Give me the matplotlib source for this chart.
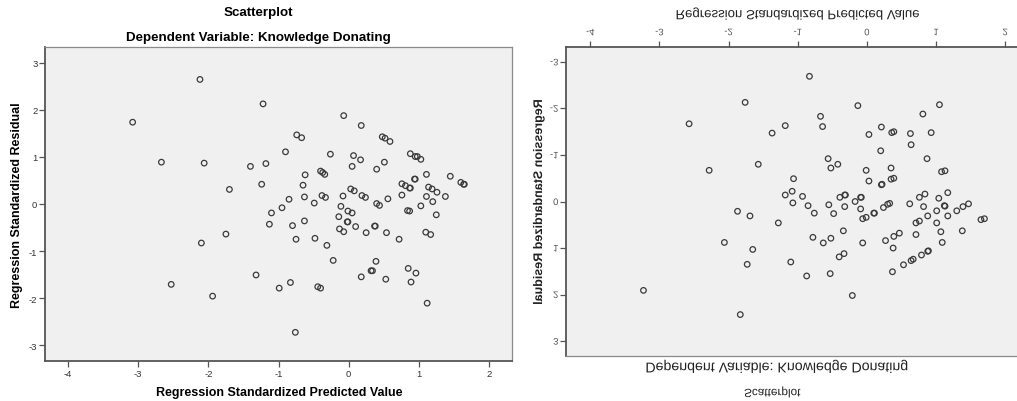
import matplotlib
matplotlib.use("Agg")
import matplotlib.pyplot as plt
from matplotlib.patheffects import AbstractPathEffect
from matplotlib.transforms import Affine2D

plt.rcParams['font.family'] = ['Liberation Sans', 'DejaVu Sans']
plt.rcParams['axes.unicode_minus'] = False

# left panel: standardized predicted value vs standardized residual
left_x = [-3.08, -2.12, -2.67, -2.06, -1.22, -1.70, -1.40, -1.18, -1.24, -0.90,
          -0.74, -0.67, -0.62, -0.65, -0.40, -0.37, -0.34, -0.26, -0.07, 0.18,
          0.07, 0.17, 0.05, 0.48, 0.52, 0.59, 0.51, 0.40, 0.88, 0.95,
          0.98, 1.03, 0.76, 0.81, 0.87, 0.88, 0.94, 0.95, 1.11, 1.14,
          1.19, 1.26, 1.45, 1.60, 1.64, 1.65, 0.03, 0.08, -0.38, -0.33,
          -0.08, 0.19, 0.24, -0.63, -0.85, 0.56, 0.76, 1.11, 1.38, -1.10,
          -0.95, -1.13, -0.80, -0.63, -0.49, -0.11, -0.01, 0.05, -0.14, -0.02,
          -0.01, 0.10, -0.13, -0.07, 0.25, 0.40, 0.44, 0.38, 0.37, 0.54,
          0.72, 0.84, 0.87, 1.03, 1.20, 1.25, 1.10, 1.17, -1.75, -2.10,
          -2.53, -1.94, -1.32, -0.99, -0.83, -0.75, -0.48, -0.31, -0.44, -0.40,
          -0.22, -0.76, 0.18, 0.32, 0.34, 0.39, 0.53, 0.85, 0.96, 0.89,
          1.12]
left_y = [1.74, 2.65, 0.89, 0.87, 2.13, 0.31, 0.80, 0.86, 0.42, 1.11,
          1.47, 1.41, 0.62, 0.40, 0.70, 0.67, 0.63, 1.06, 1.88, 1.67,
          1.03, 0.94, 0.80, 1.43, 1.40, 1.33, 0.89, 0.74, 1.07, 1.01,
          1.01, 0.95, 0.43, 0.39, 0.34, 0.34, 0.53, 0.53, 0.63, 0.36,
          0.32, 0.25, 0.59, 0.46, 0.42, 0.42, 0.32, 0.28, 0.18, 0.14,
          0.17, 0.18, 0.14, 0.15, 0.10, 0.11, 0.19, 0.16, 0.16, -0.19,
          -0.08, -0.43, -0.46, -0.36, 0.02, -0.05, -0.15, -0.19, -0.27, -0.38,
          -0.38, -0.48, -0.53, -0.59, -0.61, 0.01, -0.03, -0.47, -0.47, -0.61,
          -0.75, -0.14, -0.15, -0.04, 0.05, -0.23, -0.60, -0.65, -0.64, -0.83,
          -1.71, -1.96, -1.51, -1.79, -1.67, -0.75, -0.73, -0.88, -1.76, -1.79,
          -1.20, -2.73, -1.55, -1.42, -1.42, -1.22, -1.60, -1.37, -1.47, -1.66,
          -2.11]

# right panel (drawn upside down in the reference)
right_x = [-0.83, -1.76, -2.57, -0.13, 1.05, -0.67, -0.64, -1.18, -1.37, 0.21,
           0.03, 0.36, 0.39, 0.63, 0.81, 0.93, 0.64, 0.20, 0.87, -0.56,
           -0.42, -0.52, -1.57, -2.28, -0.01, 0.35, 0.03, 0.35, 0.39, 0.21,
           0.22, 1.08, 1.13, -1.06, -1.18, -1.08, -0.93, -0.39, -0.32, -0.31,
           -0.09, -0.08, 0.76, 0.84, 1.04, 1.17, -1.07, -0.85, -0.76, -0.55,
           -0.48, -0.32, -0.17, -0.09, -0.06, -0.01, 0.10, 0.11, 0.24, 0.30,
           0.33, 0.62, 0.82, 1.01, 1.13, 1.12, 0.88, 1.17, 1.30, 1.39,
           1.47, 1.65, 1.70, 0.71, 0.76, 1.01, 1.07, 1.09, 1.38, 0.71,
           0.47, 0.39, 0.27, 0.38, -0.06, -0.34, -0.52, -0.63, -0.78, -0.40,
           -0.33, -0.53, -0.87, -1.10, -1.28, -1.87, -1.69, -2.06, -1.65, -1.73,
           -1.83, -3.23, -0.21, 0.37, 0.53, 0.64, 0.67, 0.79, 0.88, 0.89]
right_y = [-2.69, -2.13, -1.67, -2.06, -2.08, -1.83, -1.61, -1.63, -1.47, -1.60,
           -1.44, -1.48, -1.50, -1.46, -1.88, -1.48, -1.22, -1.09, -0.92, -0.92,
           -0.80, -0.72, -0.80, -0.67, -0.67, -0.72, -0.44, -0.48, -0.50, -0.36,
           -0.37, -0.64, -0.66, -0.49, -0.14, -0.22, -0.11, -0.09, -0.14, -0.14,
           -0.09, -0.09, -0.09, -0.16, -0.07, -0.19, 0.03, 0.09, 0.25, 0.07,
           0.26, 0.11, 0.00, 0.16, 0.37, 0.34, 0.25, 0.25, 0.13, 0.06,
           0.04, 0.05, 0.11, 0.20, 0.10, 0.09, 0.31, 0.31, 0.20, 0.11,
           0.05, 0.39, 0.37, 0.46, 0.42, 0.46, 0.65, 0.88, 0.63, 0.71,
           0.68, 0.75, 0.84, 1.00, 0.89, 0.63, 0.79, 0.89, 0.77, 1.19,
           1.12, 1.55, 1.60, 1.30, 0.46, 0.21, 0.31, 0.88, 1.03, 1.35,
           2.43, 1.91, 2.02, 1.51, 1.36, 1.27, 1.24, 1.15, 1.07, 1.06]

ticks_x = [-4, -3, -2, -1, 0, 1, 2]
ticks_y = [-3, -2, -1, 0, 1, 2, 3]
title = "Scatterplot"
subtitle = "Dependent Variable: Knowledge Donating"
xlabel = "Regression Standardized Predicted Value"
ylabel = "Regression Standardized Residual"


class FlipV(AbstractPathEffect):
    # mirror the glyphs top to bottom around their own centre
    def draw_path(self, renderer, gc, tpath, affine, rgbFace=None):
        bb = tpath.get_extents(affine)
        cy = (bb.y0 + bb.y1) / 2
        flip = Affine2D().translate(0, -cy).scale(1, -1).translate(0, cy)
        renderer.draw_path(gc, tpath, affine + flip, rgbFace)


def style_axes(ax, dark, light):
    ax.set_facecolor("#f0f0f0")
    for s in dark:
        ax.spines[s].set_color("#555555")
        ax.spines[s].set_linewidth(1.3)
    for s in light:
        ax.spines[s].set_color("#8a8a8a")
        ax.spines[s].set_linewidth(0.9)
    ax.set_xticks(ticks_x)
    ax.set_yticks(ticks_y)
    ax.tick_params(length=4, width=0.9, color="#555555", labelsize=6.8,
                   labelcolor="#333333", pad=1.5)


W, H = 1017, 402
fig = plt.figure(figsize=(W / 100, H / 100), dpi=100)

# left chart
ax1 = fig.add_axes([45 / W, (H - 362) / H, 467 / W, 314 / H])
ax1.scatter(left_x, left_y, s=16, facecolors="none", edgecolors="#3a3a3a",
            linewidths=0.9, zorder=3)
ax1.set_xlim(-4.33, 2.33)
ax1.set_ylim(-3.34, 3.34)
style_axes(ax1, ["left", "bottom"], ["top", "right"])

fig.text(258 / W, 1 - 13 / H, title, ha="center", va="center",
         fontsize=9.6, fontweight="bold")
fig.text(258 / W, 1 - 38 / H, subtitle, ha="center", va="center",
         fontsize=9.6, fontweight="bold")
fig.text(279 / W, 1 - 393 / H, xlabel, ha="center", va="center",
         fontsize=9, fontweight="bold")
fig.text(17 / W, 1 - 205 / H, ylabel, ha="center", va="center",
         rotation=90, fontsize=9, fontweight="bold")

# right chart, mirrored top to bottom
ax2 = fig.add_axes([566 / W, (H - 357) / H, 462 / W, 309 / H])
ax2.scatter(right_x, right_y, s=16, facecolors="none", edgecolors="#3a3a3a",
            linewidths=0.9, zorder=3)
ax2.set_xlim(-4.35, 2.33)
ax2.set_ylim(3.32, -3.32)
ax2.xaxis.tick_top()
style_axes(ax2, ["left", "top"], ["bottom", "right"])
ax2.tick_params(labelcolor="#555555")
ax2.tick_params(axis="x", pad=3)
for lab in ax2.get_xticklabels() + ax2.get_yticklabels():
    lab.set_path_effects([FlipV()])

flip = [FlipV()]
fig.text(772 / W, 1 - 393 / H, title, ha="center", va="center",
         fontsize=8.5, color="#222222", path_effects=flip)
fig.text(777 / W, 1 - 367 / H, subtitle, ha="center", va="center",
         fontsize=10.2, color="#222222", path_effects=flip)
fig.text(798 / W, 1 - 15 / H, xlabel, ha="center", va="center",
         fontsize=9.5, color="#222222", path_effects=flip)
fig.text(539 / W, 1 - 203 / H, ylabel, ha="center", va="center",
         rotation=90, fontsize=9, fontweight="bold", color="#222222",
         path_effects=flip)

fig.savefig("out.png", dpi=100, facecolor="white")
